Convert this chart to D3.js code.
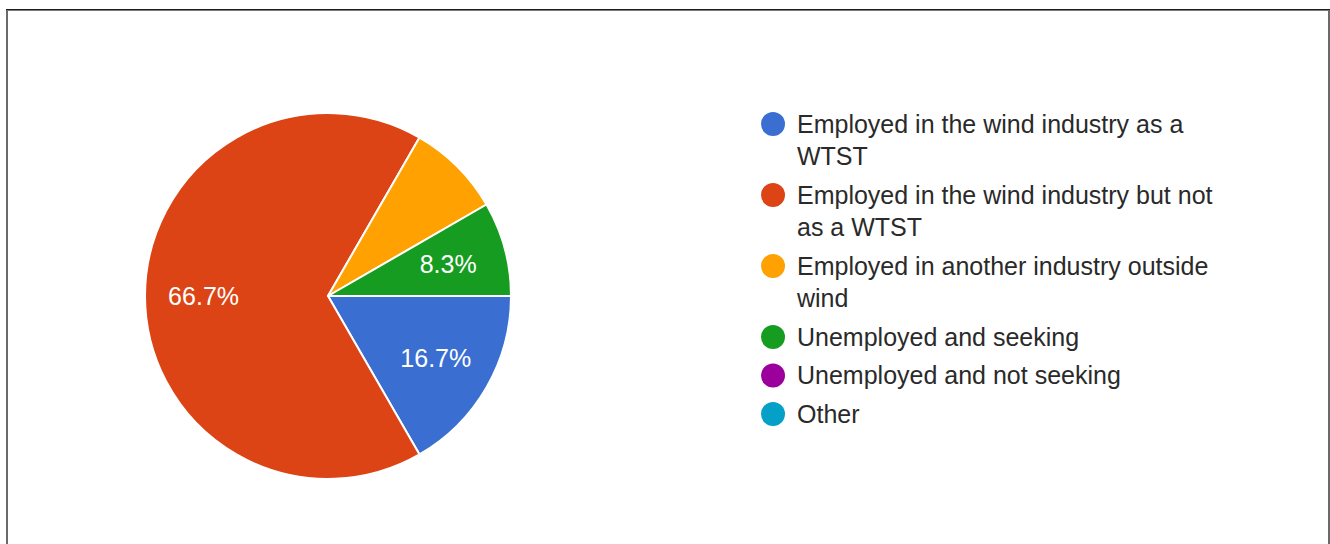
<!DOCTYPE html>
<html>
<head>
<meta charset="utf-8">
<script src="https://cdn.jsdelivr.net/npm/d3@7/dist/d3.min.js"></script>
<style>
  html, body { margin: 0; padding: 0; background: #fff; }
  svg { display: block; }
  text { font-family: Arial, "Liberation Sans", sans-serif; }
</style>
</head>
<body>
<svg id="chart" width="1330" height="544"></svg>
<script>
// Survey responses: current employment status
const categories = [
  "Employed in the wind industry as a WTST",
  "Employed in the wind industry but not as a WTST",
  "Employed in another industry outside wind",
  "Unemployed and seeking",
  "Unemployed and not seeking",
  "Other"
];
const responses = [2, 8, 1, 1, 0, 0];
const sliceColors = ["#3a6fd1", "#dc4415", "#ffa100", "#179c22", "#9c009c", "#05a0c8"];
const showSliceLabel = [true, true, false, true, false, false];

const W = 1330, H = 544;
const svg = d3.select("#chart");

// Frame around the chart area
const frame = svg.append("g");
frame.append("rect").attr("x", 6).attr("y", 9).attr("width", 1324).attr("height", 1).attr("fill", "#1e1e1e");
frame.append("rect").attr("x", 6).attr("y", 10).attr("width", 1324).attr("height", 1).attr("fill", "#7a7a7a");
frame.append("rect").attr("x", 6).attr("y", 10).attr("width", 2).attr("height", H - 10).attr("fill", "#6a6a6a");
frame.append("rect").attr("x", 1328).attr("y", 10).attr("width", 2).attr("height", H - 10).attr("fill", "#6a6a6a");

// Pie
const cx = 328, cy = 296, R = 183;
const fontSize = 25;
const total = d3.sum(responses);

const rows = categories.map((c, i) => ({ name: c, value: responses[i], color: sliceColors[i], label: showSliceLabel[i] }));

const pie = d3.pie()
  .sort(null)
  .value(d => d.value)
  .startAngle(Math.PI / 2)
  .endAngle(Math.PI / 2 + 2 * Math.PI);

const arcs = pie(rows).filter(a => a.data.value > 0);
const arc = d3.arc().innerRadius(0).outerRadius(R);
const labelArc = d3.arc().innerRadius(R * 0.68).outerRadius(R * 0.68);

const pieG = svg.append("g").attr("transform", `translate(${cx},${cy})`);
pieG.selectAll("path.slice")
  .data(arcs)
  .join("path")
  .attr("class", "slice")
  .attr("d", arc)
  .attr("fill", d => d.data.color)
  .attr("stroke", "#fff")
  .attr("stroke-width", 2)
  .attr("stroke-linejoin", "round");

const pct = d3.format(".1%");
pieG.selectAll("text.pct")
  .data(arcs.filter(a => a.data.label))
  .join("text")
  .attr("class", "pct")
  .attr("transform", d => { const [x, y] = labelArc.centroid(d); return `translate(${x},${y + fontSize * 0.358})`; })
  .attr("text-anchor", "middle")
  .attr("font-size", fontSize)
  .attr("fill", "#fff")
  .text(d => pct(d.data.value / total));

// Legend with wrapped labels
const legX = 773, legY = 124, dotR = 12, textX = 797;
const lineH = 32.5, itemGap = 38.5, maxW = 440;
const legend = svg.append("g");
let y = legY;
rows.forEach(r => {
  legend.append("circle").attr("cx", legX).attr("cy", y).attr("r", dotR).attr("fill", r.color);
  const t = legend.append("text")
    .attr("x", textX).attr("y", y + fontSize * 0.358)
    .attr("font-size", fontSize).attr("fill", "#2a2a2a");
  const words = r.name.split(" ");
  let line = [], ts = t.append("tspan").attr("x", textX).attr("dy", 0), nLines = 1;
  words.forEach(w => {
    line.push(w);
    ts.text(line.join(" "));
    if (ts.node().getComputedTextLength() > maxW && line.length > 1) {
      line.pop();
      ts.text(line.join(" "));
      line = [w];
      ts = t.append("tspan").attr("x", textX).attr("dy", lineH).text(w);
      nLines++;
    }
  });
  y += (nLines - 1) * lineH + itemGap;
});
</script>
</body>
</html>
